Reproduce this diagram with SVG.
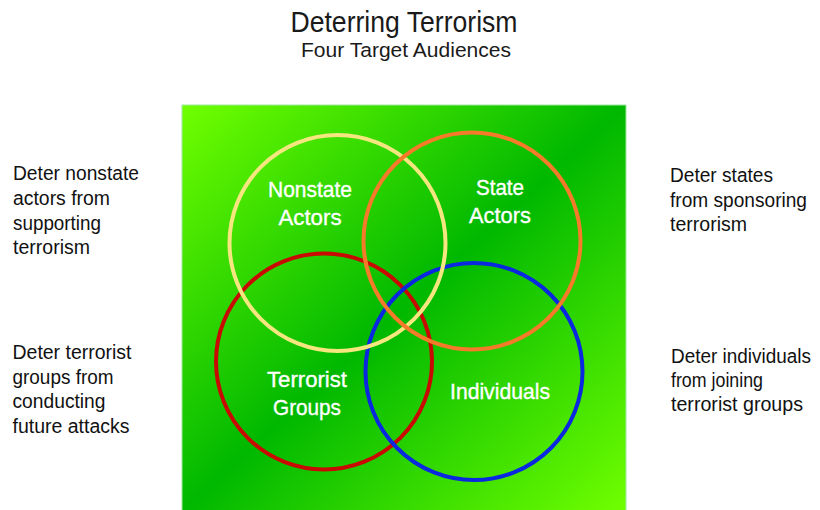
<svg xmlns="http://www.w3.org/2000/svg" width="820" height="510" viewBox="0 0 820 510">
<defs>
<linearGradient id="bg" x1="0" y1="0" x2="1" y2="1">
<stop offset="0" stop-color="#70ff00"/>
<stop offset="0.5" stop-color="#00b800"/>
<stop offset="1" stop-color="#70ff00"/>
</linearGradient>
</defs>
<style>
.t{font-family:"Liberation Sans",Arial,sans-serif;fill:#1a1a1a}
.side{font-family:"Liberation Sans",Arial,sans-serif;font-size:20px;fill:#111}
.lbl{font-family:"Liberation Sans",Arial,sans-serif;font-size:22px;fill:#fff;stroke:#fff;stroke-width:0.35;text-anchor:middle}
.ring{fill:none;stroke-width:4}
</style>
<rect width="820" height="510" fill="#fff"/>
<g id="title">
<text class="t" x="404" y="32" font-size="29" text-anchor="middle" textLength="227" lengthAdjust="spacingAndGlyphs">Deterring Terrorism</text>
<text class="t" x="406" y="57" font-size="20.5" text-anchor="middle" textLength="210" lengthAdjust="spacingAndGlyphs">Four Target Audiences</text>
</g>
<g id="panel">
<rect x="182" y="105" width="444" height="406" fill="url(#bg)" stroke="#9de89d" stroke-width="1"/>
</g>
<g id="connectors"></g>
<g id="terrorist-groups">
<circle class="ring" cx="324" cy="361.5" r="108" stroke="#c80a00"/>
<text class="lbl" x="307" y="387" textLength="80" lengthAdjust="spacingAndGlyphs">Terrorist</text>
<text class="lbl" x="307" y="415" textLength="68" lengthAdjust="spacingAndGlyphs">Groups</text>
</g>
<g id="individuals">
<circle class="ring" cx="474" cy="371.5" r="108.5" stroke="#0a28e0"/>
<text class="lbl" x="500" y="399" textLength="100" lengthAdjust="spacingAndGlyphs">Individuals</text>
</g>
<g id="nonstate-actors">
<circle class="ring" cx="337.5" cy="243" r="108" stroke="#f5e680"/>
<text class="lbl" x="310" y="197" textLength="84" lengthAdjust="spacingAndGlyphs">Nonstate</text>
<text class="lbl" x="310" y="225" textLength="63" lengthAdjust="spacingAndGlyphs">Actors</text>
</g>
<g id="state-actors">
<circle class="ring" cx="472" cy="241" r="108.5" stroke="#f57a2a"/>
<text class="lbl" x="500" y="195" textLength="48" lengthAdjust="spacingAndGlyphs">State</text>
<text class="lbl" x="500" y="223" textLength="62" lengthAdjust="spacingAndGlyphs">Actors</text>
</g>
<g id="note-nonstate">
<text class="side" x="13" y="180" textLength="126" lengthAdjust="spacingAndGlyphs">Deter nonstate</text>
<text class="side" x="13" y="205" textLength="97" lengthAdjust="spacingAndGlyphs">actors from</text>
<text class="side" x="13" y="229.5" textLength="88" lengthAdjust="spacingAndGlyphs">supporting</text>
<text class="side" x="13" y="254" textLength="77" lengthAdjust="spacingAndGlyphs">terrorism</text>
</g>
<g id="note-groups">
<text class="side" x="12.5" y="358.5" textLength="119" lengthAdjust="spacingAndGlyphs">Deter terrorist</text>
<text class="side" x="12.5" y="383.5" textLength="101" lengthAdjust="spacingAndGlyphs">groups from</text>
<text class="side" x="12.5" y="408" textLength="93" lengthAdjust="spacingAndGlyphs">conducting</text>
<text class="side" x="12.5" y="432.5" textLength="117" lengthAdjust="spacingAndGlyphs">future attacks</text>
</g>
<g id="note-states">
<text class="side" x="670" y="181.5" textLength="103" lengthAdjust="spacingAndGlyphs">Deter states</text>
<text class="side" x="670" y="206.5" textLength="137" lengthAdjust="spacingAndGlyphs">from sponsoring</text>
<text class="side" x="670" y="231" textLength="77" lengthAdjust="spacingAndGlyphs">terrorism</text>
</g>
<g id="note-individuals">
<text class="side" x="671" y="363" textLength="140" lengthAdjust="spacingAndGlyphs">Deter individuals</text>
<text class="side" x="671" y="387" textLength="92" lengthAdjust="spacingAndGlyphs">from joining</text>
<text class="side" x="671" y="410.5" textLength="132" lengthAdjust="spacingAndGlyphs">terrorist groups</text>
</g>
</svg>
